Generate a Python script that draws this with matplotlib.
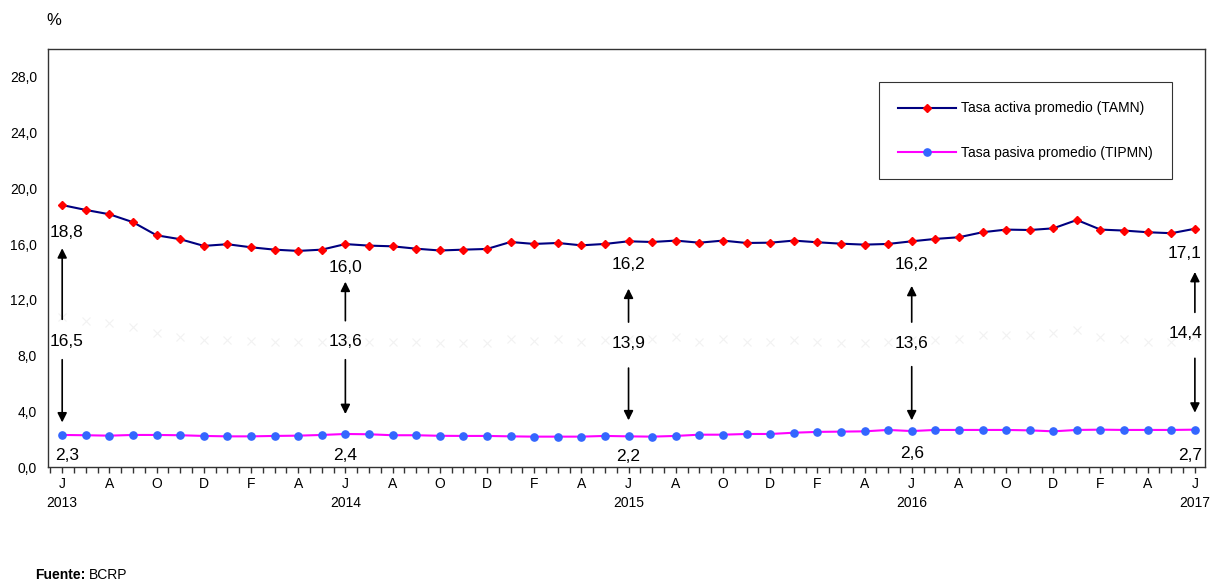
import matplotlib
matplotlib.use("Agg")
import matplotlib.pyplot as plt
import numpy as np

plt.rcParams['font.family'] = ['Liberation Sans Narrow', 'Liberation Sans', 'DejaVu Sans']

# ---------------- data ----------------
tick_idx_labels = ['J', 'A', 'O', 'D', 'F', 'A'] * 4 + ['J']
year_labels = {0: '2013', 12: '2014', 24: '2015', 36: '2016', 48: '2017'}

tamn = [18.8, 18.45, 18.14, 17.57, 16.63, 16.35, 15.87, 15.99, 15.77, 15.60,
        15.51, 15.60, 16.0, 15.89, 15.84, 15.67, 15.54, 15.60, 15.65, 16.15,
        16.01, 16.08, 15.91, 16.01, 16.2, 16.15, 16.25, 16.10, 16.25, 16.08,
        16.10, 16.25, 16.13, 16.03, 15.96, 16.01, 16.2, 16.37, 16.49, 16.85,
        17.04, 17.01, 17.13, 17.73, 17.04, 16.97, 16.85, 16.78, 17.1]

tipmn = [2.30, 2.28, 2.25, 2.30, 2.30, 2.28, 2.23, 2.20, 2.20, 2.23,
         2.25, 2.30, 2.37, 2.35, 2.28, 2.28, 2.24, 2.23, 2.23, 2.20,
         2.18, 2.18, 2.18, 2.23, 2.20, 2.18, 2.23, 2.32, 2.32, 2.37,
         2.37, 2.46, 2.52, 2.54, 2.56, 2.66, 2.58, 2.66, 2.66, 2.66,
         2.66, 2.63, 2.56, 2.66, 2.68, 2.66, 2.66, 2.66, 2.68]

faint = [10.8, 10.5, 10.35, 10.05, 9.6, 9.35, 9.15, 9.15, 9.05, 9.0,
         8.95, 8.95, 9.1, 9.0, 9.0, 8.95, 8.9, 8.9, 8.9, 9.2,
         9.05, 9.2, 9.0, 9.1, 9.2, 9.2, 9.3, 9.0, 9.2, 9.0,
         9.0, 9.1, 9.0, 8.9, 8.9, 8.95, 9.1, 9.1, 9.2, 9.5,
         9.5, 9.5, 9.6, 9.85, 9.3, 9.2, 9.0, 9.0, 9.3]

ann_idx = [0, 12, 24, 36, 48]
ann_top = ['18,8', '16,0', '16,2', '16,2', '17,1']
ann_mid = ['16,5', '13,6', '13,9', '13,6', '14,4']
ann_bot = ['2,3', '2,4', '2,2', '2,6', '2,7']

# ---------------- layout (pixel-read positions in data units) ----------------
top_text_y = [16.8, 14.3, 14.5, 14.5, 15.3]
up_arrow = [(10.4, 15.9), (10.3, 13.5), (10.2, 13.0), (10.2, 13.2), (10.9, 14.2)]
mid_text_y = [9.0, 9.0, 8.9, 8.9, 9.6]
down_arrow = [(7.9, 3.0), (7.9, 3.6), (7.3, 3.15), (7.4, 3.15), (8.0, 3.7)]
bot_text_y = [0.8, 0.8, 0.75, 0.95, 0.85]
x_off = [0.2, 0.0, 0.0, 0.0, -0.2]

fig = plt.figure(figsize=(12.1, 5.85), dpi=100)
ax = fig.add_axes([0.0397, 0.2017, 0.956, 0.7145])

x = np.arange(len(tamn))

ax.plot(x, faint, linestyle='none', marker='x', color='#f2f2f2', markersize=6,
        markeredgewidth=0.8, zorder=1)
ax.plot(x, tamn, color='#000080', linewidth=1.5, marker='D', markersize=3.8,
        markerfacecolor='#ff0000', markeredgecolor='#ff0000', label='Tasa activa promedio (TAMN)', zorder=3)
ax.plot(x, tipmn, color='#ff00ff', linewidth=1.5, marker='o', markersize=5.2,
        markerfacecolor='#3366ff', markeredgecolor='#3366ff', label='Tasa pasiva promedio (TIPMN)', zorder=3)

for k, i in enumerate(ann_idx):
    xi = i + x_off[k]
    ha = 'center'
    tx = xi
    if i == ann_idx[-1]:
        ha = 'right'
        tx = i + 0.3
    ax.text(tx, top_text_y[k], ann_top[k], ha=ha, va='center', fontsize=12.5)
    ax.text(tx, mid_text_y[k], ann_mid[k], ha=ha, va='center', fontsize=12.5)
    ax.text(tx, bot_text_y[k], ann_bot[k], ha=ha, va='center', fontsize=12.5)
    ax.annotate('', xy=(i, up_arrow[k][1]), xytext=(i, up_arrow[k][0]),
                arrowprops=dict(arrowstyle='-|>', color='black', lw=1.2, mutation_scale=14))
    ax.annotate('', xy=(i, down_arrow[k][1]), xytext=(i, down_arrow[k][0]),
                arrowprops=dict(arrowstyle='-|>', color='black', lw=1.2, mutation_scale=14))

ax.set_xlim(-0.6, 48.42)
ax.set_ylim(0, 30)
yt = np.arange(0, 29, 4)
ax.set_yticks(yt)
ax.set_yticklabels([f'{v:.1f}'.replace('.', ',') for v in yt], fontsize=10)
ax.tick_params(axis='y', length=0, pad=8)

major = list(range(0, 49, 2))
labels = []
for j, m in enumerate(major):
    lab = tick_idx_labels[j]
    if m in year_labels:
        lab = lab + '\n' + year_labels[m]
    labels.append(lab)
ax.set_xticks(major)
ax.set_xticklabels(labels, fontsize=10, linespacing=1.5)
ax.set_xticks(np.arange(-0.5, 48.5, 0.5), minor=True)
ax.tick_params(axis='x', which='both', direction='out', length=4, width=1, color='#333333', pad=3)

for s in ax.spines.values():
    s.set_linewidth(1)
    s.set_color('#333333')

leg = ax.legend(loc='upper right', bbox_to_anchor=(0.9715, 0.921), fontsize=10, frameon=True,
                fancybox=False, edgecolor='black', borderpad=1.4, labelspacing=2.2,
                handlelength=4.2, handletextpad=0.3, borderaxespad=0)
leg.get_frame().set_linewidth(0.8)

fig.text(0.038, 0.965, '%', fontsize=12, ha='left', va='center')
fig.text(0.029, 0.017, 'Fuente:', fontsize=10, fontweight='bold', ha='left', va='center')
fig.text(0.0735, 0.017, 'BCRP', fontsize=10, ha='left', va='center')

fig.savefig('out.png', dpi=100)
